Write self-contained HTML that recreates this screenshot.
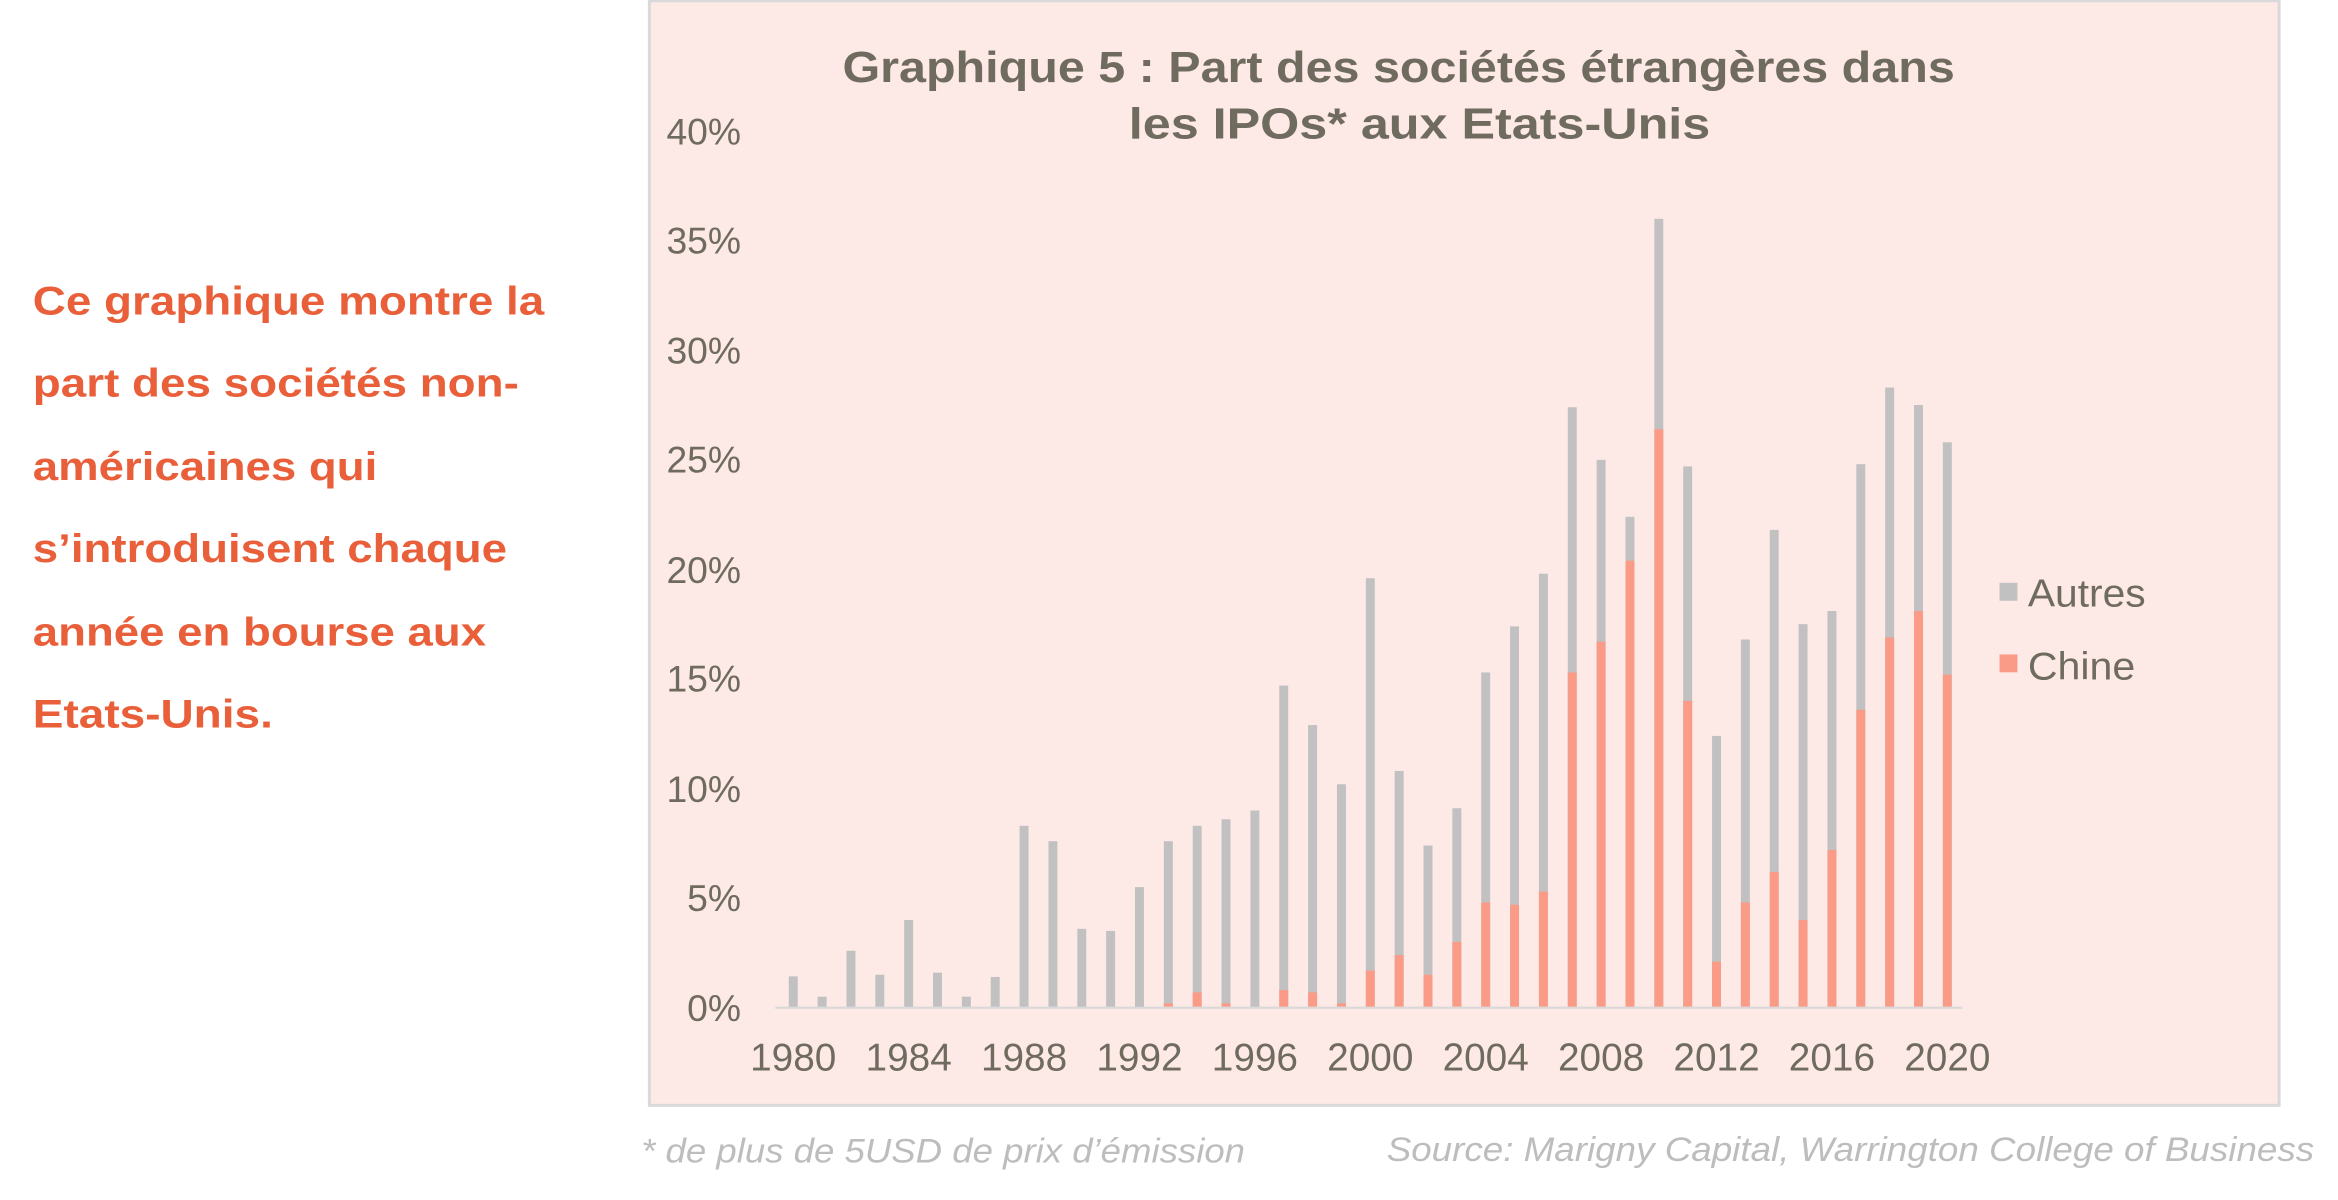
<!DOCTYPE html>
<html><head><meta charset="utf-8"><style>
html,body{margin:0;padding:0;background:#fff;width:2338px;height:1200px;overflow:hidden}
svg{display:block}
text{font-family:"Liberation Sans",Arial,sans-serif}
</style></head><body>
<svg width="2338" height="1200" viewBox="0 0 1568 805" preserveAspectRatio="none" xmlns="http://www.w3.org/2000/svg">
<rect x="435.5" y="0.5" width="1093" height="741" fill="#fde9e6" stroke="#d9d9d9" stroke-width="2"/>
<g fill="#e85f3a" font-weight="bold" font-size="27" lengthAdjust="spacingAndGlyphs">
<text x="22" y="211" textLength="343" lengthAdjust="spacingAndGlyphs">Ce graphique montre la</text>
<text x="22" y="266" textLength="326" lengthAdjust="spacingAndGlyphs">part des sociétés non-</text>
<text x="22" y="322" textLength="231" lengthAdjust="spacingAndGlyphs">américaines qui</text>
<text x="22" y="377" textLength="318" lengthAdjust="spacingAndGlyphs">s’introduisent chaque</text>
<text x="22" y="433" textLength="304" lengthAdjust="spacingAndGlyphs">année en bourse aux</text>
<text x="22" y="488" textLength="161" lengthAdjust="spacingAndGlyphs">Etats-Unis.</text>
</g>
<g fill="#6f6b5f" font-weight="bold" font-size="29">
<text x="565" y="55" textLength="746" lengthAdjust="spacingAndGlyphs">Graphique 5 : Part des sociétés étrangères dans</text>
<text x="757" y="93" textLength="390" lengthAdjust="spacingAndGlyphs">les IPOs* aux Etats-Unis</text>
</g>
<g fill="#6f6b5f" font-size="25" text-anchor="end">
<text x="497" y="685">0%</text><text x="497" y="611">5%</text><text x="497" y="538">10%</text><text x="497" y="464">15%</text><text x="497" y="391">20%</text><text x="497" y="317">25%</text><text x="497" y="244">30%</text><text x="497" y="170">35%</text><text x="497" y="97">40%</text>
</g>
<g fill="#6f6b5f" font-size="26" text-anchor="middle">
<text x="532" y="718">1980</text><text x="609.4" y="718">1984</text><text x="686.8" y="718">1988</text><text x="764.2" y="718">1992</text><text x="841.6" y="718">1996</text><text x="919" y="718">2000</text><text x="996.4" y="718">2004</text><text x="1073.8" y="718">2008</text><text x="1151.2" y="718">2012</text><text x="1228.6" y="718">2016</text><text x="1306" y="718">2020</text>
</g>
<g transform="translate(0,676) scale(1,-1)">
<g fill="#c1c1c1">
<rect x="529" width="6" height="21"/><rect x="548.35" width="6" height="7.4"/><rect x="567.7" width="6" height="38.2"/><rect x="587.05" width="6" height="22.1"/><rect x="606.4" width="6" height="58.8"/><rect x="625.75" width="6" height="23.5"/><rect x="645.1" width="6" height="7.4"/><rect x="664.45" width="6" height="20.6"/><rect x="683.8" width="6" height="122"/><rect x="703.15" width="6" height="111.7"/><rect x="722.5" width="6" height="52.9"/><rect x="741.85" width="6" height="51.5"/><rect x="761.2" width="6" height="80.9"/><rect x="780.55" width="6" height="111.7"/><rect x="799.9" width="6" height="122"/><rect x="819.25" width="6" height="126.4"/><rect x="838.6" width="6" height="132.3"/><rect x="857.95" width="6" height="216.1"/><rect x="877.3" width="6" height="189.6"/><rect x="896.65" width="6" height="149.9"/><rect x="916" width="6" height="288.1"/><rect x="935.35" width="6" height="158.8"/><rect x="954.7" width="6" height="108.8"/><rect x="974.05" width="6" height="133.8"/><rect x="993.4" width="6" height="224.9"/><rect x="1012.75" width="6" height="255.8"/><rect x="1032.1" width="6" height="291.1"/><rect x="1051.45" width="6" height="402.8"/><rect x="1070.8" width="6" height="367.5"/><rect x="1090.15" width="6" height="329.3"/><rect x="1109.5" width="6" height="529.2"/><rect x="1128.85" width="6" height="363.1"/><rect x="1148.2" width="6" height="182.3"/><rect x="1167.55" width="6" height="247"/><rect x="1186.9" width="6" height="320.5"/><rect x="1206.25" width="6" height="257.3"/><rect x="1225.6" width="6" height="266.1"/><rect x="1244.95" width="6" height="364.6"/><rect x="1264.3" width="6" height="416"/><rect x="1283.65" width="6" height="404.3"/><rect x="1303" width="6" height="379.3"/>
</g>
<g fill="#fa9b88">
<rect x="780.55" width="6" height="2.9"/><rect x="799.9" width="6" height="10.3"/><rect x="819.25" width="6" height="2.9"/><rect x="857.95" width="6" height="11.8"/><rect x="877.3" width="6" height="10.3"/><rect x="896.65" width="6" height="2.9"/><rect x="916" width="6" height="25"/><rect x="935.35" width="6" height="35.3"/><rect x="954.7" width="6" height="22.1"/><rect x="974.05" width="6" height="44.1"/><rect x="993.4" width="6" height="70.6"/><rect x="1012.75" width="6" height="69.1"/><rect x="1032.1" width="6" height="77.9"/><rect x="1051.45" width="6" height="224.9"/><rect x="1070.8" width="6" height="245.5"/><rect x="1090.15" width="6" height="299.9"/><rect x="1109.5" width="6" height="388.1"/><rect x="1128.85" width="6" height="205.8"/><rect x="1148.2" width="6" height="30.9"/><rect x="1167.55" width="6" height="70.6"/><rect x="1186.9" width="6" height="91.1"/><rect x="1206.25" width="6" height="58.8"/><rect x="1225.6" width="6" height="105.8"/><rect x="1244.95" width="6" height="199.9"/><rect x="1264.3" width="6" height="248.4"/><rect x="1283.65" width="6" height="266.1"/><rect x="1303" width="6" height="223.4"/>
</g>
</g>
<line x1="520" y1="676" x2="1316" y2="676" stroke="#d9d9d9" stroke-width="1.5"/>
<rect x="1341" y="391" width="12" height="12" fill="#c1c1c1"/>
<rect x="1341" y="439" width="12" height="12" fill="#fa9b88"/>
<g fill="#6f6b5f" font-size="26">
<text x="1360" y="407" textLength="79" lengthAdjust="spacingAndGlyphs">Autres</text>
<text x="1360" y="456" textLength="72" lengthAdjust="spacingAndGlyphs">Chine</text>
</g>
<g fill="#bdbdbd" font-size="23" font-style="italic">
<text x="430" y="780" textLength="405" lengthAdjust="spacingAndGlyphs">* de plus de 5USD de prix d’émission</text>
<text x="930" y="779" textLength="622" lengthAdjust="spacingAndGlyphs">Source: Marigny Capital, Warrington College of Business</text>
</g>
</svg>
</body></html>
